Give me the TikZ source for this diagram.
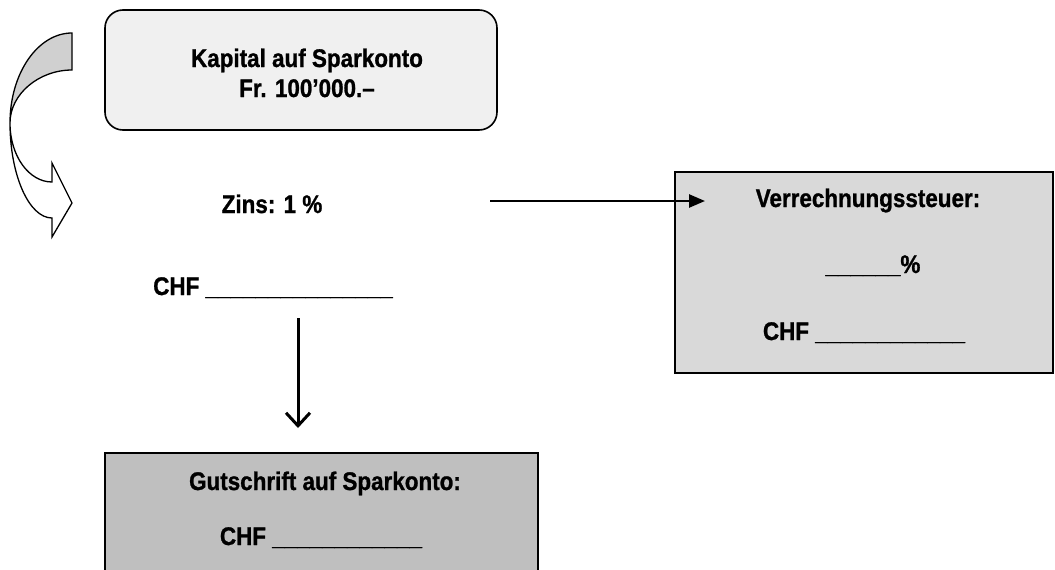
\documentclass[tikz,border=0pt]{standalone}
\usepackage{fontspec}
\setmainfont{Liberation Sans}[FakeStretch=0.88, BoldFeatures={FakeBold=1}]
\usetikzlibrary{arrows.meta}
\definecolor{boxlight}{HTML}{F0F0F0}
\definecolor{boxmid}{HTML}{D9D9D9}
\definecolor{boxdark}{HTML}{BFBFBF}
\definecolor{bandgray}{HTML}{D0D0D0}

\begin{document}
\begin{tikzpicture}[x = 1pt, y = -1pt,
    lbl/.style = {anchor = base, inner sep = 0pt,
                  font = \fontsize{25.5}{30}\selectfont\bfseries},
    frame/.style = {draw, line width = 1.6pt}]
        \useasboundingbox (0,0) rectangle (1055,570);
        % curved arrow on the left
        \filldraw[fill=bandgray, line width=1.3pt] (72,33) .. controls (38,33) and (10,73) .. (10,123)
              .. controls (10,94) and (39,70) .. (72,70) -- cycle;
        \filldraw[fill=white, line width=1.3pt] (10,123) .. controls (10,175) and (29,218) .. (52,218)
              -- (52,237) -- (72,203) -- (52,163) -- (52,182)
              .. controls (29,182) and (10,156) .. (10,123) -- cycle;
        % boxes
        \node[frame, fill=boxlight, rounded corners=18pt, minimum width=392pt,
              minimum height=120pt] (kapital) at (301,70) {};
        \node[frame, fill=boxmid, minimum width=378pt, minimum height=201pt] (vst) at (864,272.5) {};
        \fill[boxdark] (105,453) rectangle (538,575);
        \draw[line width=1.6pt] (105,575) |- (538,453) -- (538,575);
        \coordinate (gutschrift) at (321,453);
        % texts
        \node[lbl] (kap1) at (307,67) {Kapital auf Sparkonto};
        \node[lbl] (kap2) at (307,97) {Fr. 100’000.–};
        \node[lbl] (zins) at (272,213) {Zins: 1 \%};
        \node[lbl] (chfzins) at (273,295) {CHF \_\_\_\_\_\_\_\_\_\_\_\_\_\_\_};
        \node[lbl] (vst1) at (868,207) {Verrechnungssteuer:};
        \node[lbl] (vst2) at (873,273) {\_\_\_\_\_\_\%};
        \node[lbl] (vst3) at (864,340) {CHF \_\_\_\_\_\_\_\_\_\_\_\_};
        \node[lbl] (gut1) at (325,490) {Gutschrift auf Sparkonto:};
        \node[lbl] (gut2) at (321,545) {CHF \_\_\_\_\_\_\_\_\_\_\_\_};
        % arrows
        \coordinate (zinsout) at (490,201);
        \coordinate (vstin) at (705,201);
        \draw[line width=2.5pt, -{Triangle[length=16pt, width=13pt]}] (zinsout) -- (vstin);
        \coordinate (chfout) at (298,318);
        \coordinate (gutin) at (298,428);
        \draw[line width=3pt, -{Straight Barb[length=13pt, width=24pt]}] (chfout) -- (gutin);
      \end{tikzpicture}
\end{document}
